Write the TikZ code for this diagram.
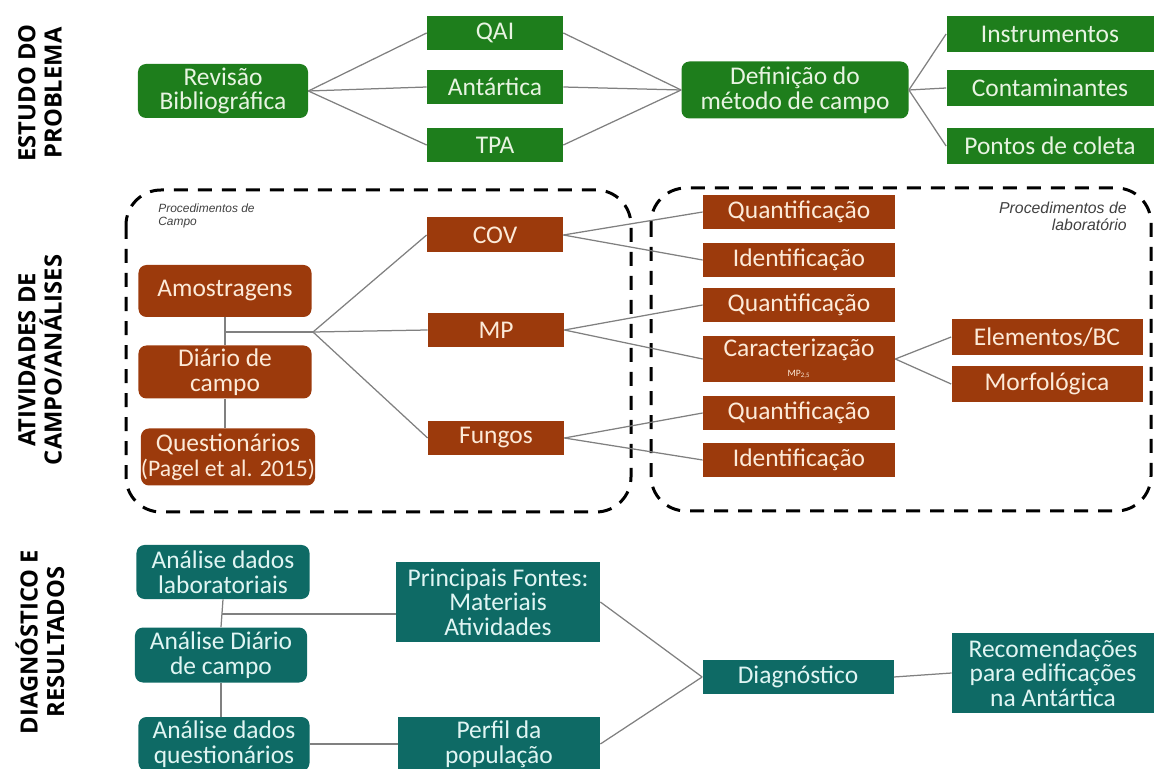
\documentclass[tikz,border=0pt]{standalone}
\usepackage{fontspec}
\setmainfont{Carlito}
\newfontfamily\rotulofont{Open Sans}
\newfontfamily\notafont{Liberation Sans}

\definecolor{verdeEP}{RGB}{30,126,28}
\definecolor{tijoloCA}{RGB}{156,58,12}
\definecolor{petroleoDR}{RGB}{14,106,101}
\definecolor{textoverde}{RGB}{232,244,226}
\definecolor{textotijolo}{RGB}{252,234,216}
\definecolor{textopetroleo}{RGB}{224,245,243}
\definecolor{linha}{RGB}{128,128,128}

\tikzset{
	caixa/.style={inner sep=0pt, align=center, font=\fontsize{14.5}{14}\selectfont},
	cxverde/.style={caixa, fill=verdeEP, text=textoverde},
	cxtijolo/.style={caixa, fill=tijoloCA, text=textotijolo},
	cxpetroleo/.style={caixa, fill=petroleoDR, text=textopetroleo},
	redonda/.style={rounded corners=1.6mm},
	ligacao/.style={draw=linha, line width=0.25mm},
	grupo/.style={draw=black, line width=0.6mm, dash pattern=on 2.8mm off 2mm, rounded corners=7mm},
	rotulo/.style={rotate=90, align=center, font=\rotulofont\bfseries\fontsize{13.5}{15}\selectfont},
	nota/.style={inner sep=0pt, font=\notafont\itshape\fontsize{6.8}{7.6}\selectfont, text=black!75}
}

\begin{document}
\begin{tikzpicture}[x=0.2mm, y=-0.2mm]
	\useasboundingbox (0,0) rectangle (1154,769);

	% rotulos das etapas
	\node[rotulo] (rotuloA) at (40,93) {ESTUDO DO\\PROBLEMA};
	\node[rotulo] (rotuloB) at (40,360) {ATIVIDADES DE\\CAMPO/ANÁLISES};
	\node[rotulo] (rotuloC) at (40,642) {DIAGNÓSTICO E\\RESULTADOS};

	% estudo do problema
	\node[cxverde, redonda, minimum width=34mm, minimum height=10.8mm] (revisao) at (223,91) {Revisão\\Bibliográfica};
	\node[cxverde, minimum width=27.2mm, minimum height=6.8mm] (qai) at (495,33) {QAI};
	\node[cxverde, minimum width=27.2mm, minimum height=6.8mm] (antartica) at (495,87) {Antártica};
	\node[cxverde, minimum width=27.2mm, minimum height=6.8mm] (tpa) at (495,145) {TPA};
	\node[cxverde, redonda, minimum width=45.4mm, minimum height=11.4mm] (definicao) at (795,90) {Definição do\\método de campo};
	\node[cxverde, minimum width=41.4mm, minimum height=7.2mm] (instrumentos) at (1050,34) {Instrumentos};
	\node[cxverde, minimum width=41.4mm, minimum height=7.2mm] (contaminantes) at (1050,88) {Contaminantes};
	\node[cxverde, minimum width=41.4mm, minimum height=7.2mm] (pontos) at (1050,146) {Pontos de coleta};

	\draw[ligacao] (revisao.east) -- (qai.west);
	\draw[ligacao] (revisao.east) -- (antartica.west);
	\draw[ligacao] (revisao.east) -- (tpa.west);
	\draw[ligacao] (qai.east) -- (definicao.west);
	\draw[ligacao] (antartica.east) -- (definicao.west);
	\draw[ligacao] (tpa.east) -- (definicao.west);
	\draw[ligacao] (definicao.east) -- (instrumentos.west);
	\draw[ligacao] (definicao.east) -- (contaminantes.west);
	\draw[ligacao] (definicao.east) -- (pontos.west);

	% atividades de campo/analises
	\draw[grupo] (126,190) rectangle (631,512);
	\draw[grupo] (651,188) rectangle (1151,511);
	\node[nota, anchor=north west, align=left] (notacampo) at (158,203) {Procedimentos de\\Campo};
	\node[nota, anchor=north east, align=right, font=\notafont\itshape\fontsize{9}{9.5}\selectfont] (notalab) at (1127,202) {Procedimentos de\\laboratório};

	\node[cxtijolo, redonda, minimum width=34.6mm, minimum height=10.4mm] (amostragens) at (225,291) {Amostragens};
	\node[cxtijolo, redonda, minimum width=34.6mm, minimum height=10.6mm] (diario) at (225,372) {Diário de\\campo};
	\node[cxtijolo, redonda, minimum width=34.2mm, minimum height=11.4mm] (questionarios) at (228,457) {Questionários\\{\fontsize{13.5}{14}\selectfont(Pagel et al. 2015)}};
	\node[cxtijolo, minimum width=27.2mm, minimum height=7mm] (cov) at (495,235) {COV};
	\node[cxtijolo, minimum width=27.2mm, minimum height=6.8mm] (mp) at (496,330) {MP};
	\node[cxtijolo, minimum width=27.2mm, minimum height=6.8mm] (fungos) at (496,438) {Fungos};

	\node[cxtijolo, minimum width=38.4mm, minimum height=6.8mm] (quantA) at (799,212) {Quantificação};
	\node[cxtijolo, minimum width=38.4mm, minimum height=6.8mm] (identA) at (799,260) {Identificação};
	\node[cxtijolo, minimum width=38.4mm, minimum height=6.8mm] (quantB) at (799,305) {Quantificação};
	\node[cxtijolo, minimum width=38.4mm, minimum height=9.2mm] (caracterizacao) at (799,359) {Caracterização\\[-3pt]{\fontsize{5.5}{6}\selectfont MP\textsubscript{2,5}}};
	\node[cxtijolo, minimum width=38.4mm, minimum height=6.8mm] (quantC) at (799,413) {Quantificação};
	\node[cxtijolo, minimum width=38.4mm, minimum height=6.8mm] (identC) at (799,460) {Identificação};
	\node[cxtijolo, minimum width=38.2mm, minimum height=7.2mm] (elementos) at (1047,337) {Elementos/BC};
	\node[cxtijolo, minimum width=38.2mm, minimum height=7.2mm] (morfologica) at (1047,384) {Morfológica};

	\coordinate (juncao) at (225,332);
	\coordinate (leque) at (313,332);
	\draw[ligacao] (amostragens.south) -- (diario.north);
	\draw[ligacao] (diario.south) -- (diario.south |- questionarios.north);
	\draw[ligacao] (juncao) -- (leque);
	\draw[ligacao] (leque) -- (cov.west);
	\draw[ligacao] (leque) -- (mp.west);
	\draw[ligacao] (leque) -- (fungos.west);
	\draw[ligacao] (cov.east) -- (quantA.west);
	\draw[ligacao] (cov.east) -- (identA.west);
	\draw[ligacao] (mp.east) -- (quantB.west);
	\draw[ligacao] (mp.east) -- (caracterizacao.west);
	\draw[ligacao] (fungos.east) -- (quantC.west);
	\draw[ligacao] (fungos.east) -- (identC.west);
	\draw[ligacao] (caracterizacao.east) -- (elementos.west);
	\draw[ligacao] (caracterizacao.east) -- (morfologica.west);

	% diagnostico e resultados
	\node[cxpetroleo, redonda, minimum width=34.6mm, minimum height=10.8mm] (analab) at (223,572) {Análise dados\\laboratoriais};
	\node[cxpetroleo, redonda, minimum width=34.4mm, minimum height=11mm] (anadiario) at (221,655) {Análise Diário\\de campo};
	\node[cxpetroleo, redonda, minimum width=34.2mm, minimum height=10.8mm] (anaquest) at (224,744) {Análise dados\\questionários};
	\node[cxpetroleo, minimum width=40.8mm, minimum height=16mm] (fontes) at (498,602) {Principais Fontes:\\Materiais\\Atividades};
	\node[cxpetroleo, minimum width=40.4mm, minimum height=10.8mm] (perfil) at (499,744) {Perfil da\\população};
	\node[cxpetroleo, minimum width=38.2mm, minimum height=6.8mm] (diagnostico) at (798,677) {Diagnóstico};
	\node[cxpetroleo, minimum width=40.4mm, minimum height=16mm] (recomendacoes) at (1053,673) {Recomendações\\para edificações\\na Antártica};

	\coordinate (juncaoC) at (222,614);
	\draw[ligacao] (analab.south) -- (anadiario.north);
	\draw[ligacao] (anadiario.south) -- (anadiario.south |- anaquest.north);
	\draw[ligacao] (juncaoC) -- (juncaoC -| fontes.west);
	\draw[ligacao] (anaquest.east) -- (perfil.west);
	\draw[ligacao] (fontes.east) -- (diagnostico.west);
	\draw[ligacao] (perfil.east) -- (diagnostico.west);
	\draw[ligacao] (diagnostico.east) -- (recomendacoes.west);
\end{tikzpicture}
\end{document}
